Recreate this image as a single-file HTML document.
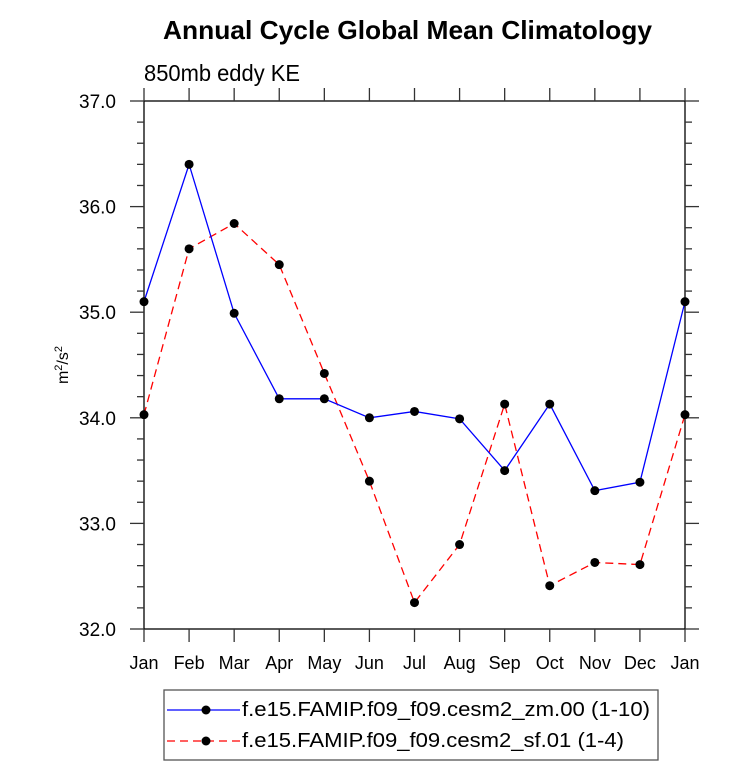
<!DOCTYPE html>
<html><head><meta charset="utf-8"><style>
body{margin:0;background:#fff;}
svg text{font-family:"Liberation Sans",Arial,sans-serif;}
</style></head><body>
<svg id="c" width="733" height="766" xmlns="http://www.w3.org/2000/svg">
<text x="163" y="39" textLength="489" lengthAdjust="spacingAndGlyphs" font-size="26" font-weight="bold">Annual Cycle Global Mean Climatology</text>
<text x="144" y="81" textLength="156" lengthAdjust="spacingAndGlyphs" font-size="23">850mb eddy KE</text>
<text transform="translate(68,365) rotate(-90)" text-anchor="middle" font-size="16">m<tspan dy="-6" font-size="11">2</tspan><tspan dy="6">/s</tspan><tspan dy="-6" font-size="11">2</tspan></text>
<g id="axes"></g>
<g id="series"></g>
<g>
<rect x="164" y="690" width="494" height="70" fill="#fff" stroke="#555" stroke-width="1.3"/>
<g>
<line x1="167" y1="710" x2="240" y2="710" stroke="#0000ff" stroke-width="1.3"/>
<circle cx="206" cy="710" r="4.5" fill="#000"/>
<text x="242" y="716" textLength="408" lengthAdjust="spacingAndGlyphs" font-size="20">f.e15.FAMIP.f09_f09.cesm2_zm.00 (1-10)</text>
</g>
<g>
<line x1="167" y1="741" x2="240" y2="741" stroke="#ff0000" stroke-width="1.3" stroke-dasharray="8,5"/>
<circle cx="206" cy="741" r="4.5" fill="#000"/>
<text x="242" y="747" textLength="382" lengthAdjust="spacingAndGlyphs" font-size="20">f.e15.FAMIP.f09_f09.cesm2_sf.01 (1-4)</text>
</g>
</g>
</svg>
<script>
const months=["Jan","Feb","Mar","Apr","May","Jun","Jul","Aug","Sep","Oct","Nov","Dec","Jan"];
const zmValues=[35.10,36.40,34.99,34.18,34.18,34.00,34.06,33.99,33.50,34.13,33.31,33.39,35.10];
const sfValues=[34.03,35.60,35.84,35.45,34.42,33.40,32.25,32.80,34.13,32.41,32.63,32.61,34.03];
const yTicks=[32.0,33.0,34.0,35.0,36.0,37.0];
const yTickLabels=["32.0","33.0","34.0","35.0","36.0","37.0"];
const X0=144,X1=685,Y0=629,Y1=101,yMin=32,yMax=37;
const NS="http://www.w3.org/2000/svg";
function xs(i){return X0+(X1-X0)*i/(months.length-1);}
function ys(v){return Y0-(Y0-Y1)*(v-yMin)/(yMax-yMin);}
function mk(t,a,p){const e=document.createElementNS(NS,t);for(const k in a)e.setAttribute(k,a[k]);p.appendChild(e);return e;}
const ax=document.getElementById('axes');
const frame=mk('rect',{x:X0,y:Y1,width:X1-X0,height:Y0-Y1,fill:'none',stroke:'#000','stroke-width':1.3},ax);


const tk={stroke:'#333','stroke-width':1.3};
for(let v=yMin;v<=yMax+1e-6;v+=0.2){const y=ys(v);const maj=Math.abs(v-Math.round(v))<1e-6;const l=maj?14:7;
 mk('line',Object.assign({x1:X0-l,y1:y,x2:X0,y2:y},tk),ax);
 mk('line',Object.assign({x1:X1,y1:y,x2:X1+l,y2:y},tk),ax);}
yTicks.forEach((v,i)=>{const t=mk('text',{x:X0-28,y:ys(v)+7,'text-anchor':'end','font-size':19},ax);t.textContent=yTickLabels[i];
 
 });
months.forEach((m,i)=>{const x=xs(i);
 mk('line',Object.assign({x1:x,y1:Y0,x2:x,y2:Y0+13},tk),ax);
 mk('line',Object.assign({x1:x,y1:Y1-13,x2:x,y2:Y1},tk),ax);
 const t=mk('text',{x:x,y:Y0+40,'text-anchor':'middle','font-size':18},ax);t.textContent=m;
 
 });
const sg=document.getElementById('series');
function draw(vals,color,dash,name){
 const g=mk('g',{},sg);
 
 
 const pts=vals.map((v,i)=>xs(i)+','+ys(v)).join(' ');
 const a={points:pts,fill:'none',stroke:color,'stroke-width':1.3};if(dash)a['stroke-dasharray']=dash;
 mk('polyline',a,g);
 vals.forEach((v,i)=>{const c=mk('circle',{cx:xs(i),cy:ys(v),r:4.5,fill:'#000'},g);
  
  });
}
draw(sfValues,'#ff0000','8,5','series-sf');
draw(zmValues,'#0000ff',null,'series-zm');
</script>
</body></html>
